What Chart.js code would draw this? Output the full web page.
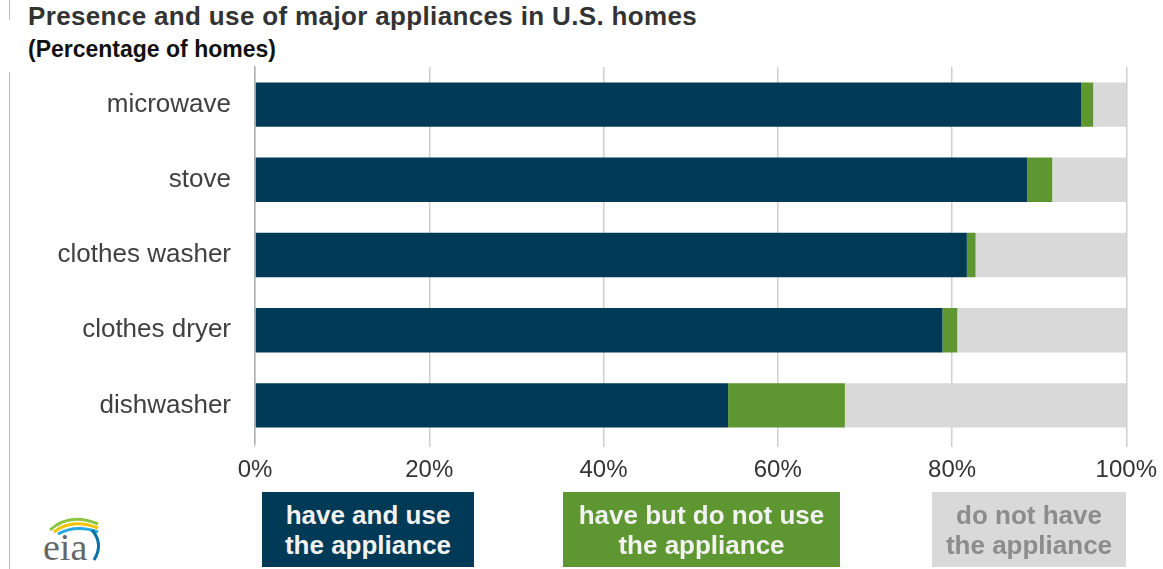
<!DOCTYPE html>
<html>
<head>
<meta charset="utf-8">
<script src="https://cdn.jsdelivr.net/npm/chart.js@4"></script>
<style>
    body { margin: 0; background: #fff; font-family: "Liberation Sans", Arial, sans-serif; }
    #wrap { position: relative; width: 1163px; height: 569px; overflow: hidden; }
    #chart { position: absolute; left: 0; top: 0; }
    .title { position: absolute; left: 28px; top: 1px; font-size: 26px; font-weight: bold; color: #333; white-space: nowrap; letter-spacing: 0.35px; }
    .subtitle { position: absolute; left: 28px; top: 36px; font-size: 23px; font-weight: bold; color: #111; }
    .edge { position: absolute; left: 9px; width: 1px; background: #bbb; }
    .key { position: absolute; top: 492px; height: 75px; display: flex; align-items: center; justify-content: center;
           text-align: center; font-size: 26px; font-weight: bold; line-height: 30px; }
    .logo { position: absolute; left: 40px; top: 510px; }
</style>
</head>
<body>
<div id="wrap">
    <div class="edge" style="top:0;height:20px"></div>
    <div class="edge" style="top:72px;height:497px"></div>
    <div class="title">Presence and use of major appliances in U.S. homes</div>
    <div class="subtitle">(Percentage of homes)</div>
    <canvas id="chart" width="1166" height="500"></canvas>
    <div class="key" style="left:262px;width:212px;background:#003a56;color:#f2f2f2">have and use<br>the appliance</div>
    <div class="key" style="left:563px;width:277px;background:#5e9732;color:#f2f2f2">have but do not use<br>the appliance</div>
    <div class="key" style="left:932px;width:194px;background:#d9d9d9;color:#8c8c8c">do not have<br>the appliance</div>
    <svg class="logo" width="72" height="56" viewBox="0 0 72 56">
        <path d="M10 20 Q30 2 58 14" stroke="#8cc63f" stroke-width="3" fill="none"/>
        <path d="M14 22 Q32 8 58 18" stroke="#f2c200" stroke-width="3" fill="none"/>
        <path d="M18 24 Q36 14 58 22" stroke="#29a8e0" stroke-width="3" fill="none"/>
        <path d="M52 20 Q64 34 54 50" stroke="#0b6fa4" stroke-width="3" fill="none"/>
        <text x="3" y="50" font-family="Liberation Serif, serif" font-size="38" fill="#666">eia</text>
    </svg>
</div>
<script>
const appliances = ['microwave', 'stove', 'clothes washer', 'clothes dryer', 'dishwasher'];
const haveAndUse = [94.8, 88.6, 81.7, 78.9, 54.3];
const haveNotUse = [1.4, 2.9, 1.0, 1.7, 13.4];
const doNotHave = [3.8, 8.5, 17.3, 19.4, 32.3];
const tickValues = [0, 20, 40, 60, 80, 100];

const ctx = document.getElementById('chart').getContext('2d');
new Chart(ctx, {
    type: 'bar',
    data: {
        labels: appliances,
        datasets: [
            { label: 'have and use the appliance', data: haveAndUse, backgroundColor: '#003a56' },
            { label: 'have but do not use the appliance', data: haveNotUse, backgroundColor: '#5e9732' },
            { label: 'do not have the appliance', data: doNotHave, backgroundColor: '#d9d9d9' }
        ]
    },
    options: {
        indexAxis: 'y',
        responsive: false,
        animation: false,
        layout: { padding: { top: 67, right: 37, left: 0, bottom: 0 } },
        datasets: { bar: { categoryPercentage: 0.59, barPercentage: 1, borderWidth: 0 } },
        plugins: { legend: { display: false }, tooltip: { enabled: false } },
        scales: {
            x: {
                stacked: true,
                min: 0,
                max: 100,
                afterBuildTicks: axis => { axis.ticks = tickValues.map(v => ({ value: v })); },
                afterFit: axis => { axis.height = 57; },
                grid: { color: '#cfcfcf', lineWidth: 1.5, tickLength: 4 },
                border: { display: false },
                ticks: {
                    color: '#333',
                    font: { family: 'Liberation Sans', size: 24 },
                    padding: 9,
                    callback: v => v + '%'
                }
            },
            y: {
                stacked: true,
                afterFit: axis => { axis.width = 255; },
                grid: { display: false },
                border: { color: '#b0b0b0', width: 1.5 },
                ticks: {
                    color: '#404040',
                    font: { family: 'Liberation Sans', size: 26 },
                    padding: 16
                }
            }
        }
    }
});
</script>
</body>
</html>
